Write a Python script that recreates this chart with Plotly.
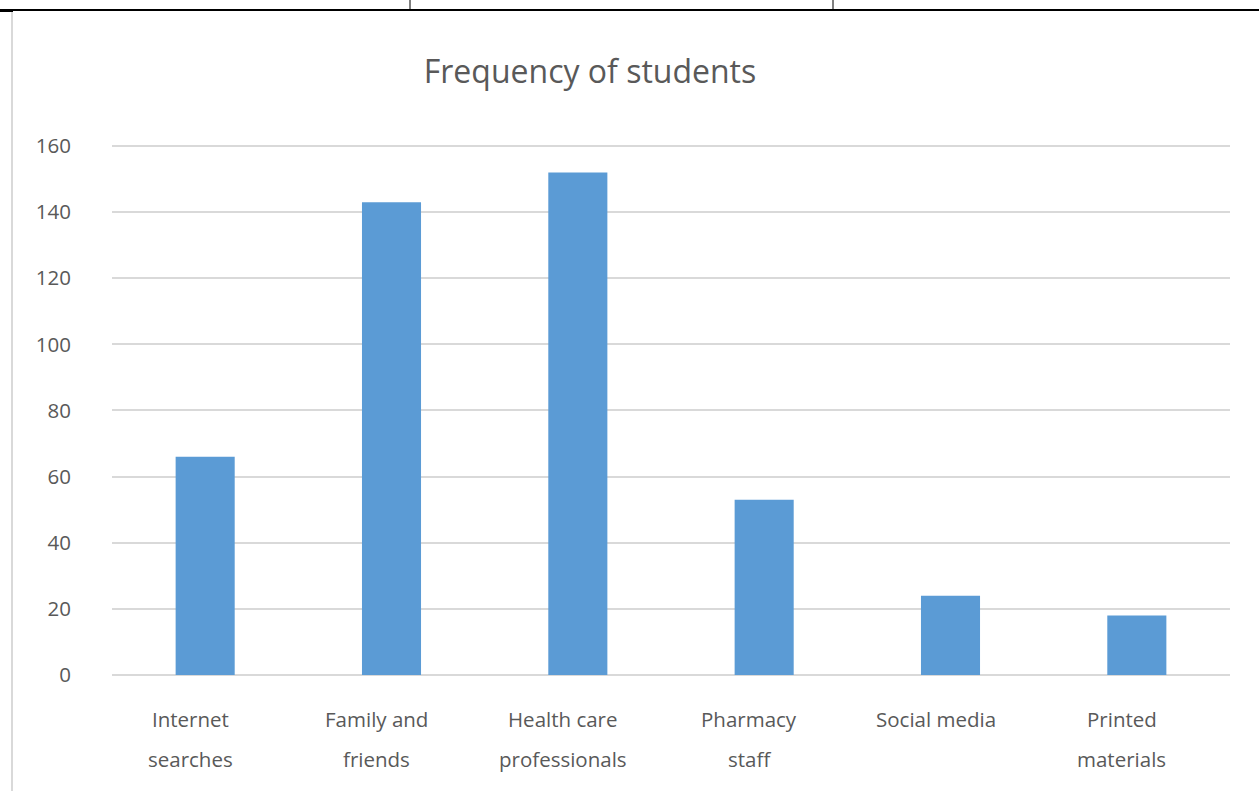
import plotly.graph_objects as go

# Source of information and number of students citing it
categories = ["Internet searches", "Family and friends", "Health care professionals",
              "Pharmacy staff", "Social media", "Printed materials"]
label_lines = [["Internet", "searches"], ["Family and", "friends"], ["Health care", "professionals"],
               ["Pharmacy", "staff"], ["Social media"], ["Printed", "materials"]]
frequency = [66, 143, 152, 53, 24, 18]
y_ticks = [0, 20, 40, 60, 80, 100, 120, 140, 160]

W, H = 1259, 791
L, R, T, B = 112, 29, 141, 116
TEXT = "#595959"
FONT = "Open Sans"

fig = go.Figure(go.Bar(
    x=categories, y=frequency,
    marker=dict(color="#5B9BD5", line=dict(width=0)),
    width=0.317,
))

# Two-line category labels below the axis
annotations = []
for cat, lines in zip(categories, label_lines):
    for i, line in enumerate(lines):
        annotations.append(dict(
            x=cat, xref="x", y=0, yref="paper", yanchor="middle",
            xshift=-15, yshift=-44 - 40 * i, text=line, showarrow=False,
            font=dict(family=FONT, size=20.5, color=TEXT),
        ))

# Page frame: table rule along the top and a grey border on the left
pw, ph = W - L - R, H - T - B
def px(xp):
    return (xp - L) / pw
def py(yp):
    return (H - B - yp) / ph

shapes = [
    dict(type="line", xref="paper", yref="paper", x0=px(0), x1=px(W), y0=py(10), y1=py(10),
         line=dict(color="black", width=2)),
    dict(type="line", xref="paper", yref="paper", x0=px(0), x1=px(13), y0=py(11), y1=py(11),
         line=dict(color="black", width=2)),
    dict(type="line", xref="paper", yref="paper", x0=px(410), x1=px(410), y0=py(0), y1=py(10),
         line=dict(color="black", width=1)),
    dict(type="line", xref="paper", yref="paper", x0=px(833), x1=px(833), y0=py(0), y1=py(10),
         line=dict(color="black", width=1)),
    dict(type="line", xref="paper", yref="paper", x0=px(12), x1=px(12), y0=py(12), y1=py(H),
         line=dict(color="#d9d9d9", width=2)),
]

fig.update_layout(
    width=W, height=H,
    margin=dict(l=L, r=R, t=T, b=B),
    paper_bgcolor="white", plot_bgcolor="white",
    showlegend=False,
    title=dict(text="Frequency of students", x=590 / W, xanchor="center",
               y=1 - 72 / H, yanchor="middle",
               font=dict(family=FONT, size=32, color=TEXT)),
    xaxis=dict(showticklabels=False, showgrid=False, zeroline=False, showline=False,
               ticks=""),
    yaxis=dict(range=[0, 161.5], tickvals=y_ticks, showgrid=True, gridcolor="#d9d9d9",
               gridwidth=1.5, zeroline=True, zerolinecolor="#d9d9d9", zerolinewidth=1.5,
               showline=False, ticks="", ticklabelstandoff=40,
               tickfont=dict(family=FONT, size=20.5, color=TEXT)),
    annotations=annotations,
    shapes=shapes,
    bargap=0.683,
)

fig.write_html("out.html")
